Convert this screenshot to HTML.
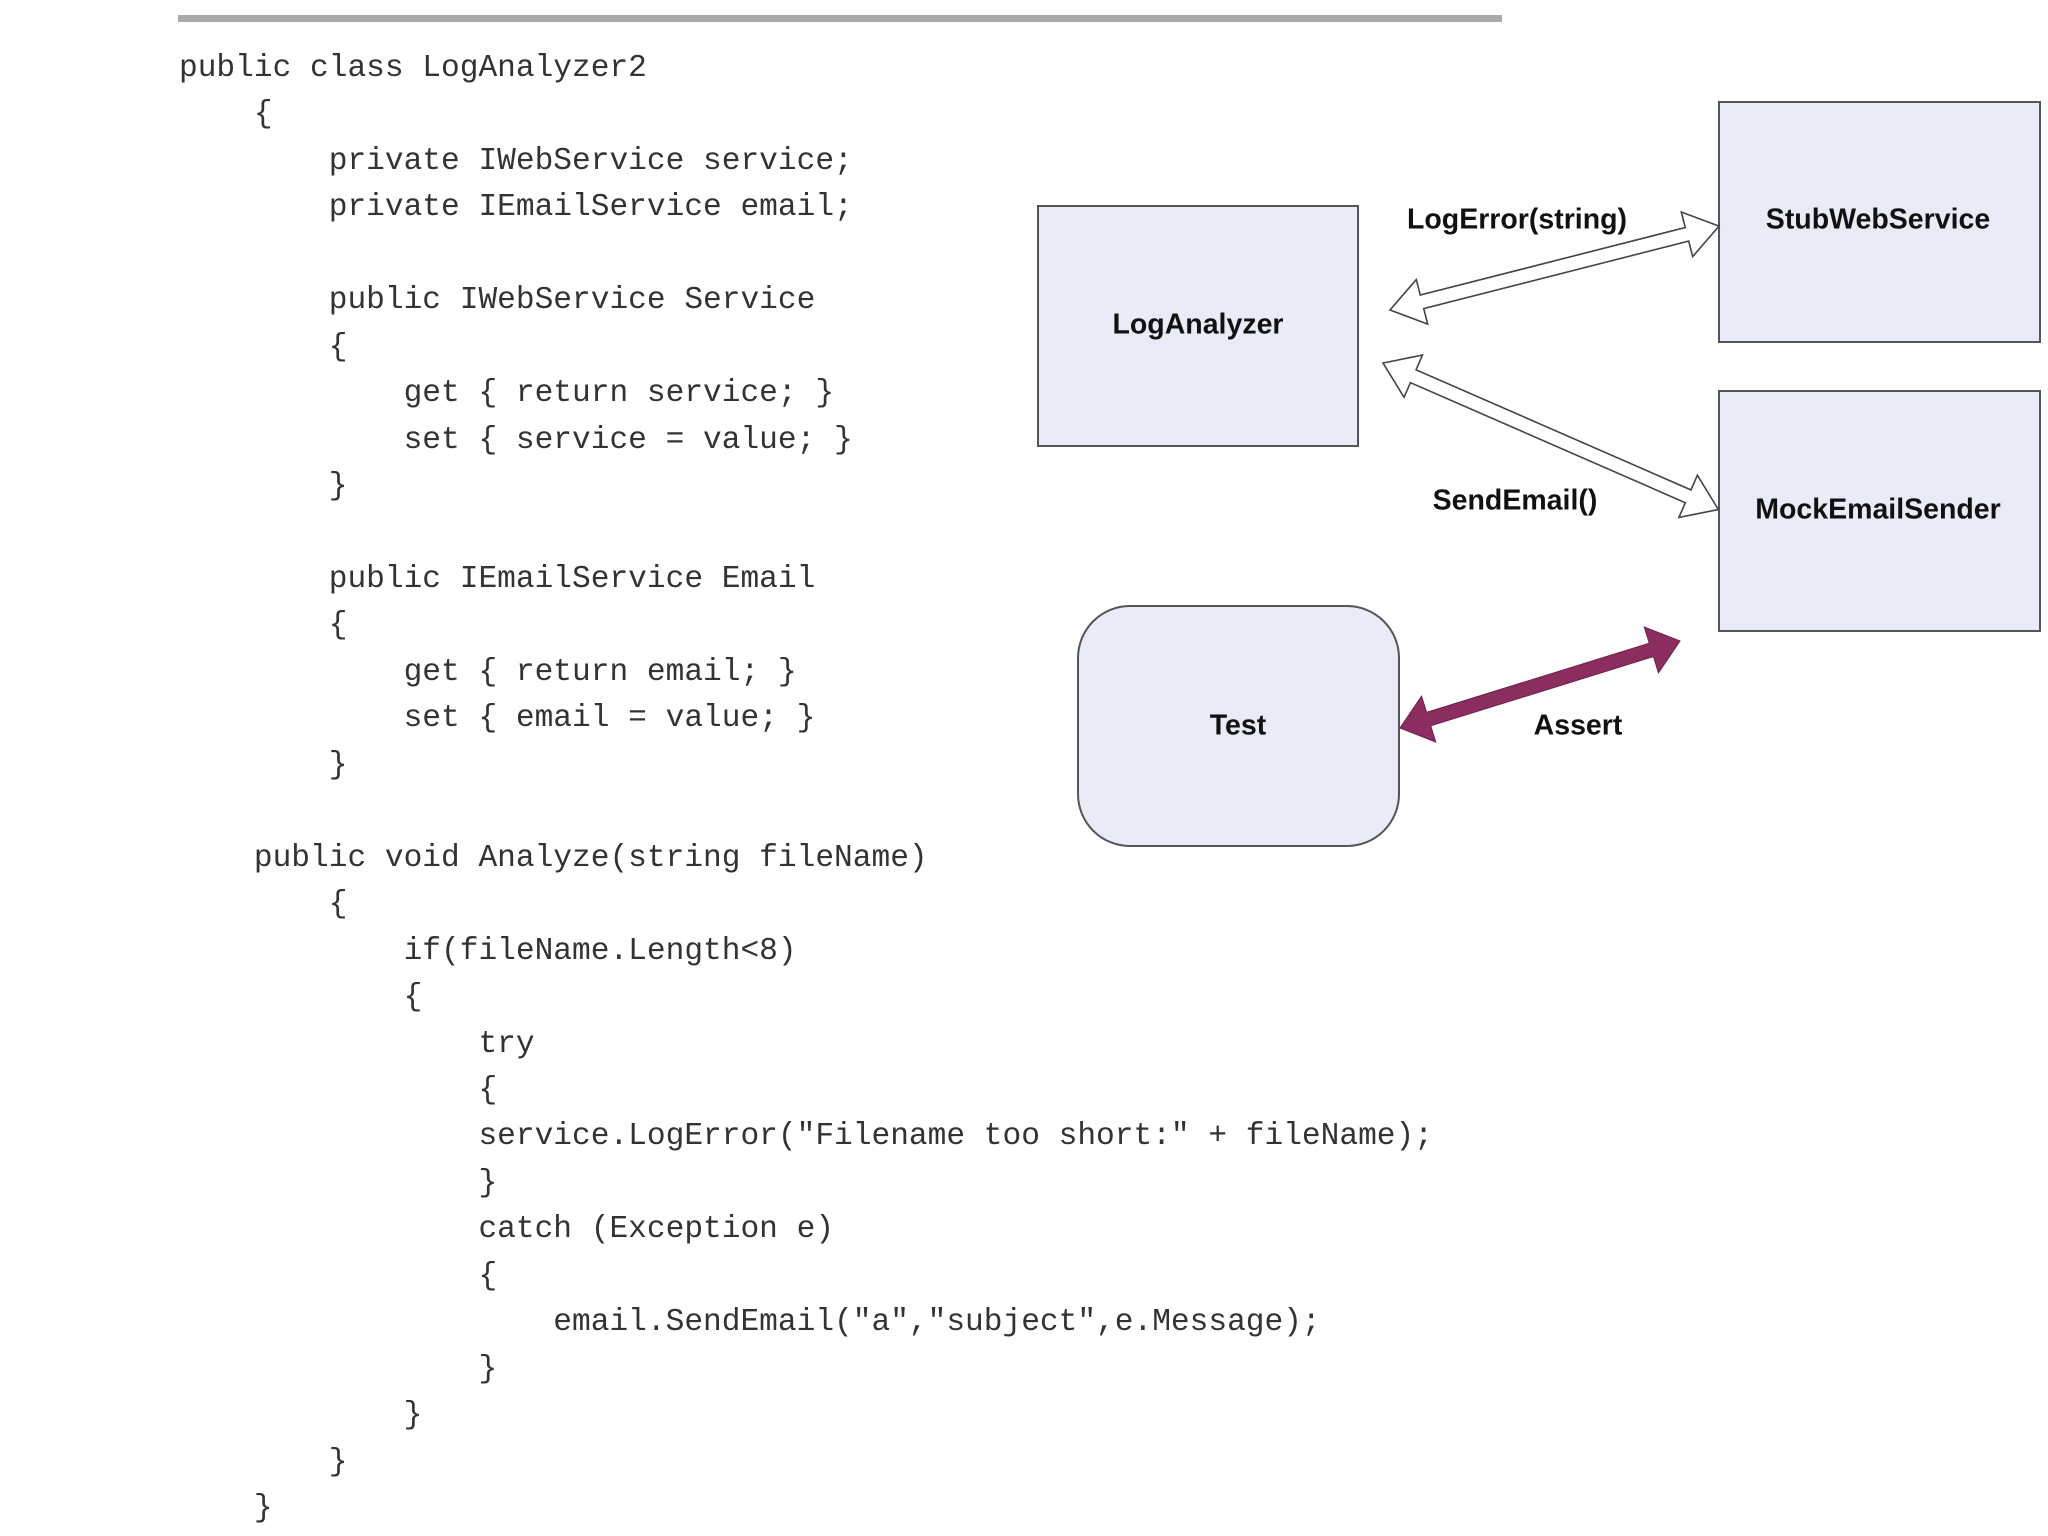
<!DOCTYPE html>
<html><head><meta charset="utf-8"><style>
html,body{margin:0;padding:0;background:#fff;width:2048px;height:1536px;overflow:hidden;position:relative}
.bar{position:absolute;left:178px;top:15px;width:1324px;height:7px;background:#a9a9a9}
pre{position:absolute;left:179px;top:46px;margin:0;font-family:"Liberation Mono",monospace;font-size:31.2px;line-height:46.45px;color:#333;letter-spacing:0}
.lbl{position:absolute;font-family:"Liberation Sans",sans-serif;font-weight:bold;font-size:28.5px;color:#111;transform:translate(-50%,-50%);white-space:nowrap}
svg{position:absolute;left:0;top:0}
</style></head><body>
<div class="bar"></div>
<pre>public class LogAnalyzer2
    {
        private IWebService service;
        private IEmailService email;

        public IWebService Service
        {
            get { return service; }
            set { service = value; }
        }

        public IEmailService Email
        {
            get { return email; }
            set { email = value; }
        }

    public void Analyze(string fileName)
        {
            if(fileName.Length&lt;8)
            {
                try
                {
                service.LogError("Filename too short:" + fileName);
                }
                catch (Exception e)
                {
                    email.SendEmail("a","subject",e.Message);
                }
            }
        }
    }</pre>
<svg width="2048" height="1536">
<rect x="1038" y="206" width="320" height="240" fill="#e9ecf7" stroke="#555" stroke-width="2"/>
<rect x="1719" y="102" width="321" height="240" fill="#e9ecf7" stroke="#555" stroke-width="2"/>
<rect x="1719" y="391" width="321" height="240" fill="#e9ecf7" stroke="#555" stroke-width="2"/>
<rect x="1078" y="606" width="321" height="240" rx="52" fill="#e9ecf7" stroke="#555" stroke-width="2"/>
<g transform="translate(1390,310) rotate(-14.3)">
<polygon points="0,0 33,-23 33,-7 306.5,-7 306.5,-23 339.5,0 306.5,23 306.5,7 33,7 33,23" fill="#fff" stroke="#444" stroke-width="1.6"/>
</g>
<g transform="translate(1383,363) rotate(23.6)">
<polygon points="0,0 33,-23 33,-7 333,-7 333,-23 366,0 333,23 333,7 33,7 33,23" fill="#fff" stroke="#444" stroke-width="1.6"/>
</g>
<g transform="translate(1400,728) rotate(-17.26)">
<polygon points="0,0 30,-24 30,-7 263.2,-7 263.2,-24 293.2,0 263.2,24 263.2,7 30,7 30,24" fill="#8b2d5f" stroke="#6e2049" stroke-width="1"/>
</g>
</svg>
<div class="lbl" style="left:1198px;top:325px">LogAnalyzer</div>
<div class="lbl" style="left:1878px;top:220px">StubWebService</div>
<div class="lbl" style="left:1878px;top:510px">MockEmailSender</div>
<div class="lbl" style="left:1238px;top:726px">Test</div>
<div class="lbl" style="left:1517px;top:220px">LogError(string)</div>
<div class="lbl" style="left:1515px;top:501px">SendEmail()</div>
<div class="lbl" style="left:1578px;top:726px">Assert</div>
</body></html>
